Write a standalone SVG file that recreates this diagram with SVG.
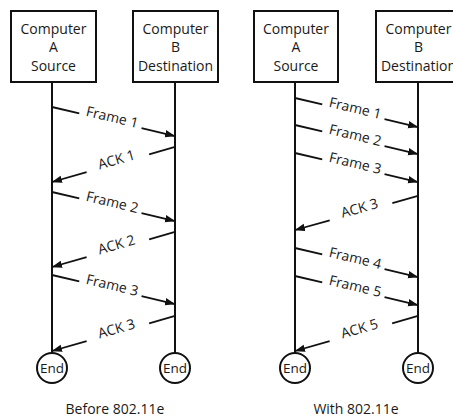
<svg xmlns="http://www.w3.org/2000/svg" width="453" height="419" viewBox="0 0 453 419">
<style>
.box{fill:#fff;stroke:#111;stroke-width:2}
.life{stroke:#111;stroke-width:2;fill:none}
.end{fill:#fff;stroke:#111;stroke-width:2}
.ln{stroke:#111;stroke-width:1.8;fill:none}
.t{font-family:"Open Sans","Liberation Sans",sans-serif;fill:#1a1a1a;text-anchor:middle}
.bt{font-size:14px}
.lt{font-size:14px}
.et{font-size:13.5px}
.cap{font-size:14px}
</style>
<defs>
<marker id="ah" markerUnits="userSpaceOnUse" markerWidth="11" markerHeight="8" refX="10" refY="3.75" orient="auto">
<path d="M0,0 L10.5,3.75 L0,7.5 z" fill="#111"/>
</marker>
</defs>
<rect width="453" height="419" fill="#fff"/>

<!-- Left diagram nodes -->
<g id="L-A">
<line class="life" x1="52" y1="82" x2="52" y2="353"/>
<rect class="box" x="11" y="11" width="85" height="71"/>
<text class="t bt" x="53.5" y="34">Computer</text>
<text class="t bt" x="53.5" y="52">A</text>
<text class="t bt" x="53.5" y="70.5">Source</text>
</g>
<g id="L-B">
<line class="life" x1="175" y1="82" x2="175" y2="353"/>
<rect class="box" x="133" y="11" width="85" height="71"/>
<text class="t bt" x="175.5" y="34">Computer</text>
<text class="t bt" x="175.5" y="52">B</text>
<text class="t bt" x="175.5" y="70.5">Destination</text>
</g>
<g id="L-A-end">
<circle class="end" cx="52" cy="368" r="15"/>
<text class="t et" x="52" y="372.5">End</text>
</g>
<g id="L-B-end">
<circle class="end" cx="175" cy="368" r="15"/>
<text class="t et" x="175" y="372.5">End</text>
</g>

<!-- Right diagram nodes -->
<g id="R-A">
<line class="life" x1="295" y1="82" x2="295" y2="353"/>
<rect class="box" x="254" y="11" width="84" height="71"/>
<text class="t bt" x="296" y="34">Computer</text>
<text class="t bt" x="296" y="52">A</text>
<text class="t bt" x="296" y="70.5">Source</text>
</g>
<g id="R-B">
<line class="life" x1="418" y1="82" x2="418" y2="353"/>
<rect class="box" x="376" y="11" width="86" height="71"/>
<text class="t bt" x="418.5" y="34">Computer</text>
<text class="t bt" x="418.5" y="52">B</text>
<text class="t bt" x="418.5" y="70.5">Destination</text>
</g>
<g id="R-A-end">
<circle class="end" cx="295" cy="368" r="15"/>
<text class="t et" x="295" y="372.5">End</text>
</g>
<g id="R-B-end">
<circle class="end" cx="418" cy="368" r="15"/>
<text class="t et" x="418" y="372.5">End</text>
</g>

<g id="connectors">
<!-- Left: Frame 1 -->
<g transform="translate(52,107) rotate(13.27)">
<line class="ln" x1="0" y1="0" x2="28" y2="0"/>
<line class="ln" x1="92" y1="0" x2="126.4" y2="0" marker-end="url(#ah)"/>
<text class="t lt" x="61" y="1">Frame 1</text>
</g>
<!-- Left: ACK 1 -->
<g transform="translate(52,182) rotate(-15.9)">
<line class="ln" x1="36" y1="0" x2="0" y2="0" marker-end="url(#ah)"/>
<line class="ln" x1="101" y1="0" x2="127.9" y2="0"/>
<text class="t lt" x="68" y="1">ACK 1</text>
</g>
<!-- Left: Frame 2 -->
<g transform="translate(52,192) rotate(13.27)">
<line class="ln" x1="0" y1="0" x2="28" y2="0"/>
<line class="ln" x1="92" y1="0" x2="126.4" y2="0" marker-end="url(#ah)"/>
<text class="t lt" x="61" y="1">Frame 2</text>
</g>
<!-- Left: ACK 2 -->
<g transform="translate(52,267) rotate(-15.9)">
<line class="ln" x1="36" y1="0" x2="0" y2="0" marker-end="url(#ah)"/>
<line class="ln" x1="101" y1="0" x2="127.9" y2="0"/>
<text class="t lt" x="68" y="1">ACK 2</text>
</g>
<!-- Left: Frame 3 -->
<g transform="translate(52,275) rotate(13.27)">
<line class="ln" x1="0" y1="0" x2="28" y2="0"/>
<line class="ln" x1="92" y1="0" x2="126.4" y2="0" marker-end="url(#ah)"/>
<text class="t lt" x="61" y="1">Frame 3</text>
</g>
<!-- Left: ACK 3 -->
<g transform="translate(52,351) rotate(-15.9)">
<line class="ln" x1="36" y1="0" x2="0" y2="0" marker-end="url(#ah)"/>
<line class="ln" x1="101" y1="0" x2="127.9" y2="0"/>
<text class="t lt" x="68" y="1">ACK 3</text>
</g>

<!-- Right: Frame 1 -->
<g transform="translate(295,98) rotate(13.27)">
<line class="ln" x1="0" y1="0" x2="28" y2="0"/>
<line class="ln" x1="92" y1="0" x2="126.4" y2="0" marker-end="url(#ah)"/>
<text class="t lt" x="61" y="1">Frame 1</text>
</g>
<!-- Right: Frame 2 -->
<g transform="translate(295,125) rotate(13.27)">
<line class="ln" x1="0" y1="0" x2="28" y2="0"/>
<line class="ln" x1="92" y1="0" x2="126.4" y2="0" marker-end="url(#ah)"/>
<text class="t lt" x="61" y="1">Frame 2</text>
</g>
<!-- Right: Frame 3 -->
<g transform="translate(295,153) rotate(13.27)">
<line class="ln" x1="0" y1="0" x2="28" y2="0"/>
<line class="ln" x1="92" y1="0" x2="126.4" y2="0" marker-end="url(#ah)"/>
<text class="t lt" x="61" y="1">Frame 3</text>
</g>
<!-- Right: ACK 3 -->
<g transform="translate(295,230) rotate(-15.5)">
<line class="ln" x1="36" y1="0" x2="0" y2="0" marker-end="url(#ah)"/>
<line class="ln" x1="101" y1="0" x2="127.6" y2="0"/>
<text class="t lt" x="68" y="1">ACK 3</text>
</g>
<!-- Right: Frame 4 -->
<g transform="translate(295,248) rotate(13.27)">
<line class="ln" x1="0" y1="0" x2="28" y2="0"/>
<line class="ln" x1="92" y1="0" x2="126.4" y2="0" marker-end="url(#ah)"/>
<text class="t lt" x="61" y="1">Frame 4</text>
</g>
<!-- Right: Frame 5 -->
<g transform="translate(295,276) rotate(13.27)">
<line class="ln" x1="0" y1="0" x2="28" y2="0"/>
<line class="ln" x1="92" y1="0" x2="126.4" y2="0" marker-end="url(#ah)"/>
<text class="t lt" x="61" y="1">Frame 5</text>
</g>
<!-- Right: ACK 5 -->
<g transform="translate(295,351) rotate(-15.9)">
<line class="ln" x1="36" y1="0" x2="0" y2="0" marker-end="url(#ah)"/>
<line class="ln" x1="101" y1="0" x2="127.9" y2="0"/>
<text class="t lt" x="68" y="1">ACK 5</text>
</g>
</g>

<g id="captions">
<text class="t cap" x="115" y="414">Before 802.11e</text>
<text class="t cap" x="356" y="414">With 802.11e</text>
</g>
</svg>
